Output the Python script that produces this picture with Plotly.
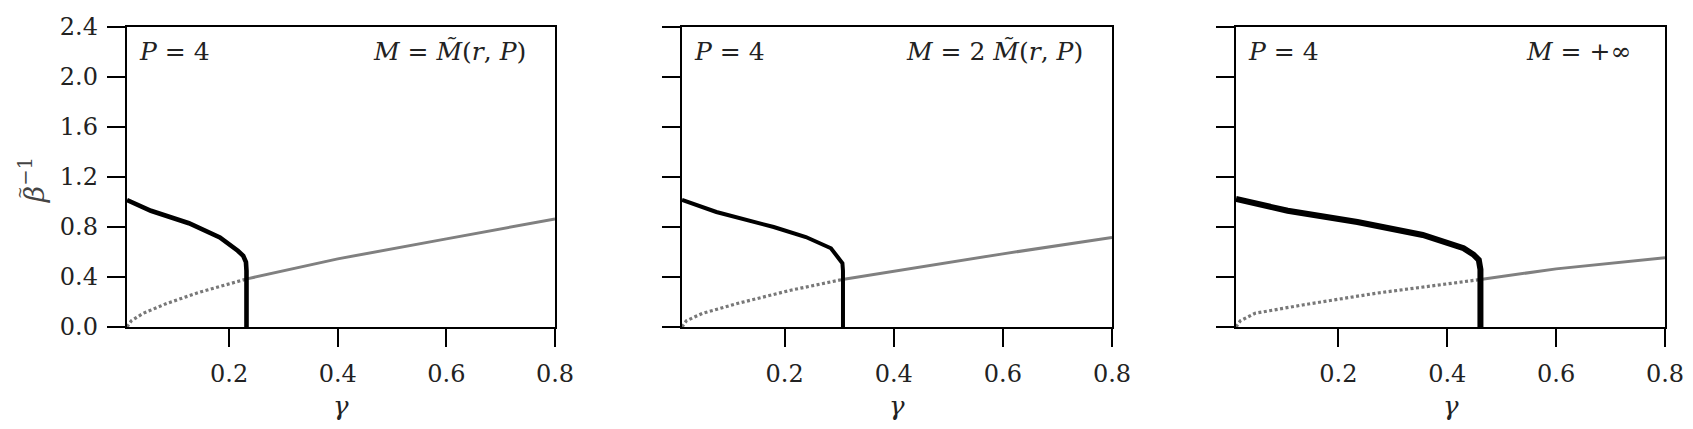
import plotly.graph_objects as go
from plotly.subplots import make_subplots

# values (gamma on x, beta~^-1 on y)
gamma_min = 0.012

black1_x = [0.012, 0.056, 0.126, 0.183, 0.216, 0.226, 0.231, 0.232, 0.232]
black1_y = [1.016, 0.93, 0.83, 0.716, 0.61, 0.57, 0.52, 0.45, 0.0]
dot1_x = [0.012, 0.02, 0.042, 0.086, 0.147, 0.233]
dot1_y = [0.0, 0.05, 0.11, 0.19, 0.28, 0.385]
gray1_x = [0.233, 0.4, 0.6, 0.8]
gray1_y = [0.385, 0.545, 0.705, 0.864]

black2_x = [0.012, 0.075, 0.18, 0.239, 0.285, 0.298, 0.306, 0.307, 0.307]
black2_y = [1.016, 0.92, 0.80, 0.72, 0.63, 0.56, 0.51, 0.45, 0.0]
dot2_x = [0.012, 0.02, 0.05, 0.115, 0.213, 0.306]
dot2_y = [0.0, 0.05, 0.11, 0.19, 0.296, 0.38]
gray2_x = [0.306, 0.45, 0.6, 0.8]
gray2_y = [0.38, 0.48, 0.585, 0.717]

black3_x = [0.012, 0.107, 0.235, 0.355, 0.43, 0.448, 0.458, 0.461, 0.461]
black3_y = [1.024, 0.93, 0.84, 0.736, 0.63, 0.58, 0.536, 0.46, 0.0]
dot3_x = [0.012, 0.02, 0.047, 0.134, 0.269, 0.461]
dot3_y = [0.0, 0.05, 0.11, 0.176, 0.27, 0.38]
gray3_x = [0.461, 0.6, 0.8]
gray3_y = [0.38, 0.465, 0.555]

y_ticks = [0.0, 0.4, 0.8, 1.2, 1.6, 2.0, 2.4]
x_ticks = [0.2, 0.4, 0.6, 0.8]
p_labels = ["<i>P</i> = 4"] * 3
m_labels = ["<i>M</i> = <i>M\u0303</i>(<i>r</i>, <i>P</i>)",
            "<i>M</i> = 2 <i>M\u0303</i>(<i>r</i>, <i>P</i>)",
            "<i>M</i> = +\u221e"]

panels = [(black1_x, black1_y, dot1_x, dot1_y, gray1_x, gray1_y, 4.6),
          (black2_x, black2_y, dot2_x, dot2_y, gray2_x, gray2_y, 4.0),
          (black3_x, black3_y, dot3_x, dot3_y, gray3_x, gray3_y, 6.0)]

FONT = "DejaVu Serif"
W, H = 1677, 413   # page has an 8px body margin, keep it all inside the window
OFF = 8

def px(x):
    return (x - OFF) / W

def py(y):
    return 1 - (y - OFF) / H

fig = make_subplots(rows=1, cols=3)

for i, (bx, by, dx, dy, gx, gy, bw) in enumerate(panels):
    col = i + 1
    fig.add_trace(go.Scatter(x=dx, y=dy, mode="lines", showlegend=False,
                             line=dict(color="rgb(120,120,120)", width=3.2, dash="3px,2.5px")),
                  row=1, col=col)
    fig.add_trace(go.Scatter(x=gx, y=gy, mode="lines", showlegend=False,
                             line=dict(color="rgb(128,128,128)", width=3)),
                  row=1, col=col)
    fig.add_trace(go.Scatter(x=bx, y=by, mode="lines", showlegend=False,
                             line=dict(color="black", width=bw)),
                  row=1, col=col)

x_edges = [(127, 555), (682, 1112), (1236, 1665)]
x_domains = [[px(a), px(b)] for a, b in x_edges]
y_domain = [py(327), py(27)]

for i in range(3):
    fig.update_xaxes(row=1, col=i + 1, domain=x_domains[i], range=[gamma_min, 0.8],
                     tickvals=x_ticks, ticktext=["%.1f" % t for t in x_ticks],
                     ticks="outside", ticklen=18, tickwidth=2.4, tickcolor="black",
                     showline=True, linewidth=2.4, linecolor="black", mirror=True,
                     showgrid=False, zeroline=False, automargin=False,
                     ticklabelstandoff=6,
                     tickfont=dict(family=FONT, size=24, color="#222"))
    fig.update_yaxes(row=1, col=i + 1, domain=y_domain, range=[0, 2.4],
                     tickvals=y_ticks, ticktext=["%.1f" % t for t in y_ticks],
                     showticklabels=(i == 0),
                     ticks="outside", ticklen=18, tickwidth=2.4, tickcolor="black",
                     showline=True, linewidth=2.4, linecolor="black", mirror=True,
                     showgrid=False, zeroline=False, automargin=False,
                     ticklabelstandoff=4,
                     tickfont=dict(family=FONT, size=24, color="#222"))

    xd = "x domain" if i == 0 else "x%d domain" % (i + 1)
    yd = "y domain" if i == 0 else "y%d domain" % (i + 1)
    fig.add_annotation(xref=xd, yref=yd, x=0.023, y=0.917, xanchor="left", yanchor="middle",
                       text=p_labels[i], showarrow=False,
                       font=dict(family=FONT, size=25, color="#222"))
    fig.add_annotation(xref=xd, yref=yd, x=0.937 if i < 2 else 0.925, y=0.917,
                       xanchor="right", yanchor="middle",
                       text=m_labels[i], showarrow=False,
                       font=dict(family=FONT, size=25, color="#222"))
    # x axis title
    fig.add_annotation(xref="paper", yref="paper",
                       x=(x_domains[i][0] + x_domains[i][1]) / 2, y=py(406),
                       xanchor="center", yanchor="middle", text="<i>\u03b3</i>",
                       showarrow=False, font=dict(family=FONT, size=26, color="#222"))

# y axis title, the tilde over beta is placed by hand since the combining mark does not show
fig.add_annotation(xref="paper", yref="paper", x=px(32), y=py(180),
                   xanchor="center", yanchor="middle", textangle=-90,
                   text="<i>\u03b2</i><sup>\u22121</sup>", showarrow=False,
                   font=dict(family=FONT, size=28, color="#444"))
fig.add_annotation(xref="paper", yref="paper", x=px(20), y=py(193),
                   xanchor="center", yanchor="middle", textangle=-90,
                   text="~", showarrow=False,
                   font=dict(family=FONT, size=15, color="#444"))

fig.update_layout(width=W, height=H, margin=dict(l=0, r=0, t=0, b=0),
                  paper_bgcolor="white", plot_bgcolor="white")

fig.write_html("out.html")
